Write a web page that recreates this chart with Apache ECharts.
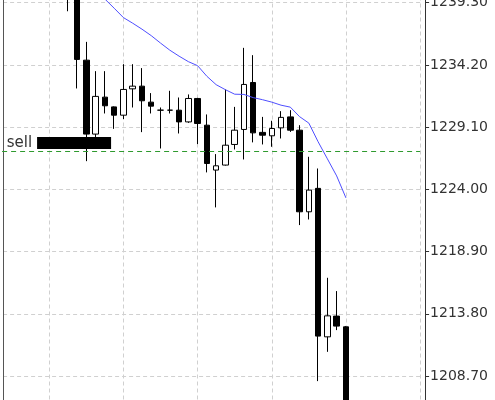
<!DOCTYPE html>
<html><head><meta charset="utf-8">
<style>html,body{margin:0;padding:0;background:#fff}#c{width:495px;height:400px}</style>
<script src="https://cdn.jsdelivr.net/npm/echarts@6/dist/echarts.min.js"></script>
</head><body><div id="c"></div>
<script>
// empty category slots before the first visible candle and after the last one
const leadingSlots = 10;
const trailingSlots = 8;

const opens  = [1241.8, 1240.3, 1234.59, 1228.53, 1231.56, 1230.76, 1230.08, 1232.24, 1232.46, 1231.15,
                1230.49, 1230.49, 1230.49, 1229.53, 1231.45, 1229.26, 1225.58, 1225.99, 1227.68, 1228.91,
                1232.76, 1228.67, 1228.39, 1229.04, 1229.94, 1228.85, 1222.16, 1224.08, 1211.91, 1213.61, 1212.73];
const closes = [1239.9, 1234.65, 1228.53, 1231.62, 1230.85, 1230.08, 1232.19, 1232.46, 1231.26, 1230.82,
                1230.49, 1230.49, 1229.53, 1231.45, 1229.40, 1226.12, 1225.93, 1227.62, 1228.85, 1232.6,
                1228.63, 1228.44, 1228.99, 1229.9, 1228.85, 1222.16, 1223.94, 1211.97, 1213.63, 1212.79, 1205.5];
const lows   = [1238.6, 1232.27, 1226.31, 1228.2, 1230.22, 1228.96, 1229.76, 1230.71, 1228.69, 1230.22,
                1227.35, 1230.22, 1228.58, 1229.45, 1227.71, 1225.39, 1222.52, 1225.95, 1227.27, 1226.45,
                1227.85, 1227.68, 1227.49, 1228.17, 1228.71, 1221.07, 1221.53, 1208.28, 1210.68, 1212.46, 1204.8];
const highs  = [1242.3, 1240.6, 1236.09, 1233.69, 1233.69, 1230.8, 1234.26, 1234.26, 1233.94, 1231.89,
                1230.71, 1232.08, 1231.53, 1231.78, 1231.5, 1230.14, 1226.89, 1232.19, 1230.76, 1235.6,
                1235.0, 1229.94, 1229.62, 1230.41, 1230.49, 1229.26, 1226.67, 1225.71, 1216.75, 1215.66, 1212.8];
const movingAvg = [1242.6, 1241.8, 1241.1, 1240.5, 1239.6, 1238.85, 1238.08, 1237.62, 1237.13, 1236.6,
                   1235.99, 1235.41, 1234.92, 1234.47, 1234.14, 1233.27, 1232.58, 1232.17, 1231.8, 1231.78,
                   1231.52, 1231.35, 1231.15, 1230.9, 1230.74, 1229.96, 1229.43, 1227.9, 1226.5, 1225.1, 1223.3];

const yMin = 1203.6, yMax = 1244.4, yStep = 5.1;
const sellLevel = 1227.13;
const sellMarkerValue = 1227.79;
const sellMarkerSlot = 1;   // candle index the marker is attached to
const sellText = 'sell';

const total = leadingSlots + opens.length + trailingSlots;
const categories = [];
for (let i = 0; i < total; i++) categories.push(String(i));
const candleData = categories.map((c, i) => {
  const k = i - leadingSlots;
  if (k < 0 || k >= opens.length) return ['-', '-', '-', '-'];
  return [opens[k], closes[k], lows[k], highs[k]];
});
const maData = categories.map((c, i) => {
  const k = i - leadingSlots;
  return (k < 0 || k >= movingAvg.length) ? '-' : movingAvg[k];
});

const chart = echarts.init(document.getElementById('c'), null, {renderer: 'canvas'});
chart.setOption({
  animation: false,
  backgroundColor: '#fff',
  textStyle: {fontFamily: 'DejaVu Sans'},
  grid: {left: -24.9, right: 74.9, top: -59.5, bottom: -38.2, outerBoundsMode: 'none', containLabel: false},
  xAxis: {
    type: 'category', data: categories, boundaryGap: false,
    axisLine: {show: false}, axisTick: {show: false}, axisLabel: {show: false},
    splitLine: {show: true, interval: 7, lineStyle: {color: '#d0d0d0', type: [4, 3], width: 1}}
  },
  yAxis: [{
    type: 'value', position: 'right', min: yMin, max: yMax, interval: yStep, offset: 5, scale: true,
    axisLine: {show: true, lineStyle: {color: '#333', width: 1}},
    axisTick: {show: true, length: 4, lineStyle: {color: '#333'}},
    axisLabel: {formatter: v => v.toFixed(2), color: '#333', fontSize: 14, fontFamily: 'DejaVu Sans', margin: 5},
    splitLine: {show: true, lineStyle: {color: '#d0d0d0', type: [4, 3], width: 1}}
  }, {
    type: 'value', position: 'left', min: yMin, max: yMax, interval: yStep, offset: -28, scale: true,
    axisLine: {show: true, lineStyle: {color: '#555', width: 1}},
    axisTick: {show: false}, axisLabel: {show: false}, splitLine: {show: false}
  }],
  series: [{
    type: 'candlestick', data: candleData, barWidth: 6,
    itemStyle: {color: '#fff', color0: '#000', borderColor: '#000', borderColor0: '#000', borderWidth: 1},
    markLine: {
      silent: true, symbol: 'none', label: {show: false},
      emphasis: {disabled: true},
      lineStyle: {color: '#2f9a2f', type: [5, 4], width: 1.2, opacity: 1},
      data: [{yAxis: sellLevel, lineStyle: {color: '#2f9a2f', type: [5, 4], width: 1.2}}]
    },
    markPoint: {
      silent: true,
      data: [{coord: [leadingSlots + sellMarkerSlot, sellMarkerValue]}],
      symbol: 'rect', symbolSize: [74, 12], symbolOffset: [-3, 0],
      itemStyle: {color: '#000'},
      label: {show: true, position: 'left', distance: 5, formatter: sellText, color: '#333', fontSize: 15, fontFamily: 'DejaVu Sans'}
    }
  }, {
    type: 'line', data: maData, symbol: 'none', showSymbol: false, z: 5,
    lineStyle: {color: '#4f4fff', width: 1}
  }]
});
</script></body></html>
